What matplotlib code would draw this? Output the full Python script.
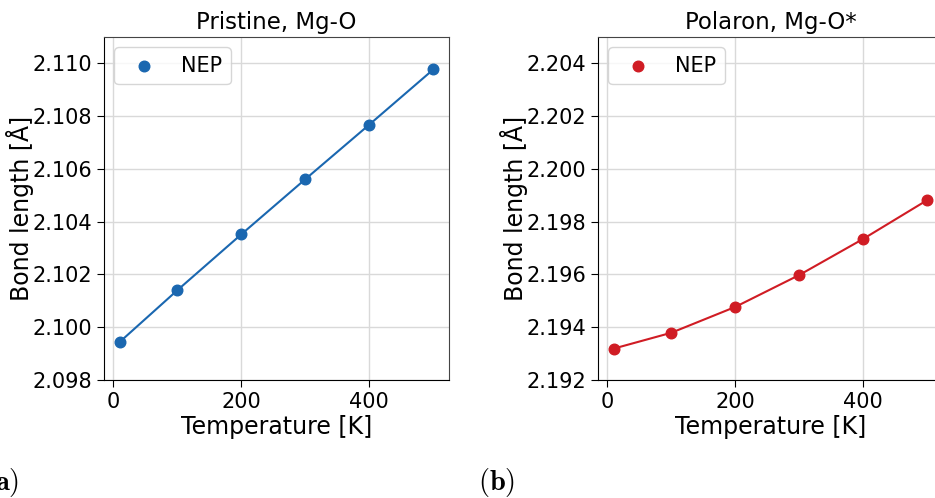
import matplotlib
matplotlib.use('Agg')
import matplotlib.pyplot as plt

plt.rcParams['mathtext.fontset'] = 'cm'

# temperatures and average bond lengths
temps = [10, 100, 200, 300, 400, 500]
pristine = [2.09944, 2.10140, 2.10352, 2.10561, 2.10768, 2.10977]
polaron = [2.19319, 2.19379, 2.19477, 2.19598, 2.19735, 2.19882]

titles = ['Pristine, Mg-O', 'Polaron, Mg-O*']
colors = ['#1a67b0', '#d01c24']
ylims = [(2.098, 2.111), (2.192, 2.205)]
yticks = [[2.098, 2.100, 2.102, 2.104, 2.106, 2.108, 2.110],
          [2.192, 2.194, 2.196, 2.198, 2.200, 2.202, 2.204]]
panel_labels = [r'$\mathbf{(a)}$', r'$\mathbf{(b)}$']

W, H = 935, 498
fig = plt.figure(figsize=(W / 100, H / 100), dpi=100)

# axes boxes in pixels: left, top, width, height
boxes = [(104, 37, 345, 343), (598, 37, 345, 343)]

for i, series in enumerate([pristine, polaron]):
    l, t, w, h = boxes[i]
    ax = fig.add_axes([l / W, 1 - (t + h) / H, w / W, h / H])
    ax.plot(temps, series, color=colors[i], lw=1.5, zorder=2)
    ax.scatter(temps, series, color=colors[i], s=58, zorder=3, label='NEP')
    ax.set_xlim(-14.5, 524.5)
    ax.set_ylim(*ylims[i])
    ax.set_xticks([0, 200, 400])
    ax.set_yticks(yticks[i])
    ax.set_yticklabels(['{:.3f}'.format(v) for v in yticks[i]])
    ax.tick_params(labelsize=15, length=5)
    ax.grid(True, color='#d9d9d9', lw=1)
    ax.set_axisbelow(True)
    ax.spines['top'].set_color('#444444')
    ax.spines['right'].set_color('#444444')
    ax.set_title(titles[i], fontsize=16.5, pad=6)
    ax.set_xlabel('Temperature [K]', fontsize=17, labelpad=2)
    ax.set_ylabel('Bond length [Å]', fontsize=17, labelpad=-1)
    ax.legend(loc='upper left', fontsize=15)
    fig.text((l - 120) / W, 1 - 490 / H, panel_labels[i], fontsize=20.5,
             ha='left', va='baseline')

fig.savefig('out.png', dpi=100)
